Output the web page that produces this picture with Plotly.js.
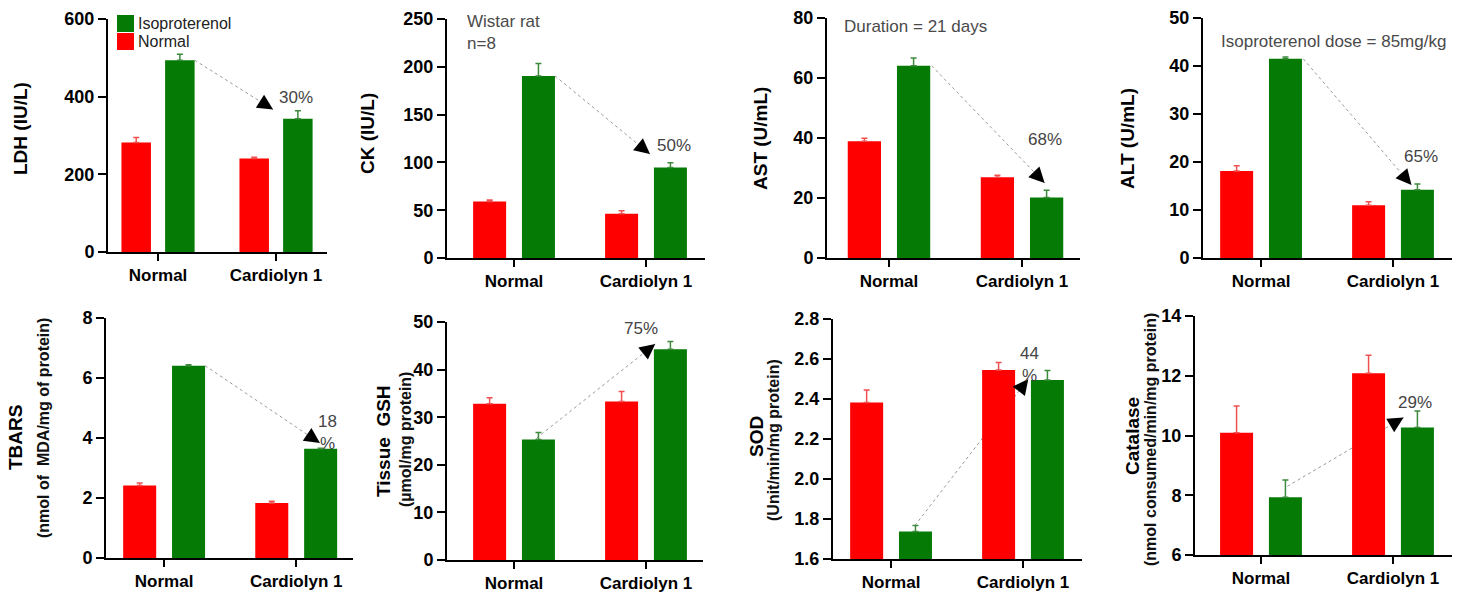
<!DOCTYPE html>
<html>
<head>
<meta charset="utf-8">
<script src="https://cdn.plot.ly/plotly-3.0.1.min.js"></script>
<style>
  html, body { margin: 0; padding: 0; background: #ffffff; }
  #chart { width: 1465px; height: 592px; }
</style>
</head>
<body>
<div id="chart"></div>
<script>
// ---------------- DATA ----------------
const categories = ['Normal', 'Cardiolyn 1'];
const groupNames = ['Normal', 'Isoproterenol'];

const ldhNormal = [282, 241],    ldhNormalErr = [13, 3];
const ldhIso = [494, 343],       ldhIsoErr = [15, 21];
const ckNormal = [59.2, 46.3],   ckNormalErr = [1.5, 3];
const ckIso = [190.5, 94.7],     ckIsoErr = [13, 5];
const astNormal = [38.9, 26.9],  astNormalErr = [1.0, 0.7];
const astIso = [64.1, 20.2],     astIsoErr = [2.6, 2.4];
const altNormal = [18.1, 11.0],  altNormalErr = [1.1, 0.7];
const altIso = [41.5, 14.2],     altIsoErr = [0.4, 1.2];
const tbarsNormal = [2.42, 1.83], tbarsNormalErr = [0.08, 0.06];
const tbarsIso = [6.41, 3.64],    tbarsIsoErr = [0.03, 0.02];
const gshNormal = [32.8, 33.3],  gshNormalErr = [1.3, 2.1];
const gshIso = [25.3, 44.3],     gshIsoErr = [1.5, 1.6];
const sodNormal = [2.383, 2.545], sodNormalErr = [0.062, 0.038];
const sodIso = [1.737, 2.495],    sodIsoErr = [0.03, 0.047];
const catNormal = [10.09, 12.08], catNormalErr = [0.9, 0.61];
const catIso = [7.93, 10.27],     catIsoErr = [0.58, 0.55];

const yTitles = ['LDH (IU/L)', 'CK (IU/L)', 'AST (U/mL)', 'ALT (U/mL)', 'TBARS', 'Tissue  GSH', 'SOD', 'Catalase'];
const ySubtitles = ['', '', '', '', '(nmol of  MDA/mg of protein)', '(µmol/mg protein)', '(Unit/min/mg protein)', '(nmol consumed/min/mg protein)'];
const changeLabels = ['30%', '50%', '68%', '65%', '18<br>%', '75%', '44<br>%', '29%'];
const noteTexts = ['', 'Wistar rat<br>n=8', 'Duration = 21 days', 'Isoproterenol dose = 85mg/kg'];

const normalSeries = [ldhNormal, ckNormal, astNormal, altNormal, tbarsNormal, gshNormal, sodNormal, catNormal];
const normalErrors = [ldhNormalErr, ckNormalErr, astNormalErr, altNormalErr, tbarsNormalErr, gshNormalErr, sodNormalErr, catNormalErr];
const isoSeries = [ldhIso, ckIso, astIso, altIso, tbarsIso, gshIso, sodIso, catIso];
const isoErrors = [ldhIsoErr, ckIsoErr, astIsoErr, altIsoErr, tbarsIsoErr, gshIsoErr, sodIsoErr, catIsoErr];

// ---------------- LAYOUT CONFIG ----------------
const W = 1465, H = 592;
const FONT = 'Liberation Sans, Arial, Helvetica, sans-serif';
const RED = '#ff0000', GREEN = '#057a05';

const panels = [
  {xpx:[108,327],  ypx:[19,252],  xr:[-0.424,1.432], yr:[0,600], dt:200, tf:'',    title:[21,129],  sub:null},
  {xpx:[447,705],  ypx:[19,258],  xr:[-0.508,1.447], yr:[0,250], dt:50,  tf:'',    title:[367,133], sub:null},
  {xpx:[827,1080], ypx:[18,258],  xr:[-0.466,1.436], yr:[0,80],  dt:20,  tf:'',    title:[760,138], sub:null},
  {xpx:[1203,1452],ypx:[18,258],  xr:[-0.44,1.447],  yr:[0,50],  dt:10,  tf:'',    title:[1128,139],sub:null},
  {xpx:[106,353],  ypx:[318,558], xr:[-0.44,1.43],   yr:[0,8],   dt:2,   tf:'',    title:[15,438],  sub:[43,428]},
  {xpx:[447,703],  ypx:[322,560], xr:[-0.508,1.432], yr:[0,50],  dt:10,  tf:'',    title:[383,441], sub:[405,440]},
  {xpx:[833,1082], ypx:[319,559], xr:[-0.44,1.447],  yr:[1.6,2.8],dt:0.2,tf:'.1f', title:[756,437], sub:[773,440]},
  {xpx:[1195,1452],ypx:[316,555], xr:[-0.5,1.447],   yr:[6,14],  dt:2,   tf:'',    title:[1132,436],sub:[1150,440]}
];
// arrow geometry: start (x, offset above Iso[0]), tip (x, offset above Iso[1]); label position
const arrows = [
  {sx:0.31, sdy:0,    tx:0.975, tdy:24,    lx:1.17, ly:399},
  {sx:0.31, sdy:0,    tx:1.03,  tdy:14,    lx:1.21, ly:117.5},
  {sx:0.32, sdy:0,    tx:1.17,  tdy:4.8,   lx:1.17, ly:39.4},
  {sx:0.32, sdy:0,    tx:1.14,  tdy:1.0,   lx:1.21, ly:21.1},
  {sx:0.31, sdy:0,    tx:1.18,  tdy:0.19,  lx:1.235,ly:4.18},
  {sx:0.17, sdy:0.3,  tx:1.07,  tdy:1.1,   lx:0.96, ly:48.7},
  {sx:0.18, sdy:0.03, tx:1.04,  tdy:0.005, lx:1.05, ly:2.575},
  {sx:0.20, sdy:0.37, tx:1.08,  tdy:0.33,  lx:1.17, ly:11.12}
];
const notePos = [null, [465,10], [842,15], [1219,30]];

const px2x = p => p / W;
const py2y = p => 1 - p / H;

const traces = [];
const layout = {
  width: W, height: H,
  margin: {l:0, r:0, t:0, b:0},
  paper_bgcolor: '#ffffff',
  plot_bgcolor: 'rgba(0,0,0,0)',
  barmode: 'overlay',
  showlegend: false,
  font: {family: FONT, color: '#000'},
  shapes: [],
  annotations: []
};

panels.forEach((p, i) => {
  const n = i + 1;
  const xa = n === 1 ? 'x' : 'x' + n;
  const ya = n === 1 ? 'y' : 'y' + n;
  const xk = n === 1 ? 'xaxis' : 'xaxis' + n;
  const yk = n === 1 ? 'yaxis' : 'yaxis' + n;

  traces.push({
    type: 'bar', name: groupNames[0], x: categories, y: normalSeries[i],
    xaxis: xa, yaxis: ya, offset: -0.31, width: 0.25,
    marker: {color: RED, line: {width: 0}},
    error_y: {type:'data', symmetric:false, array: normalErrors[i], arrayminus: [0,0],
              color: '#f05050', thickness: 1.5, width: 3},
    hoverinfo: 'skip'
  });
  traces.push({
    type: 'bar', name: groupNames[1], x: categories, y: isoSeries[i],
    xaxis: xa, yaxis: ya, offset: 0.06, width: 0.25,
    marker: {color: GREEN, line: {width: 0}},
    error_y: {type:'data', symmetric:false, array: isoErrors[i], arrayminus: [0,0],
              color: '#3d8a3d', thickness: 1.5, width: 3},
    hoverinfo: 'skip'
  });

  layout[xk] = {
    domain: [px2x(p.xpx[0]), px2x(p.xpx[1])],
    anchor: ya, type: 'category', range: p.xr,
    showline: true, linewidth: 2, linecolor: '#000',
    ticks: 'outside', ticklen: 7, tickwidth: 2, tickcolor: '#000',
    tickfont: {family: FONT, size: 17, weight: 'bold', color: '#000'},
    showgrid: false, zeroline: false, fixedrange: true
  };
  layout[yk] = {
    domain: [py2y(p.ypx[1]), py2y(p.ypx[0])],
    anchor: xa, range: p.yr, dtick: p.dt, tick0: p.yr[0], tickformat: p.tf,
    showline: true, linewidth: 2, linecolor: '#000',
    ticks: 'outside', ticklen: 8, tickwidth: 2, tickcolor: '#000',
    tickfont: {family: FONT, size: 18, weight: 'bold', color: '#000'},
    showgrid: false, zeroline: false, fixedrange: true
  };

  // y titles
  layout.annotations.push({
    xref:'paper', yref:'paper', x: px2x(p.title[0]), y: py2y(p.title[1]),
    xanchor:'center', yanchor:'middle', textangle: -90, showarrow:false,
    text: yTitles[i], font: {family: FONT, size: 19, weight: 'bold', color: '#000'}
  });
  if (p.sub) {
    layout.annotations.push({
      xref:'paper', yref:'paper', x: px2x(p.sub[0]), y: py2y(p.sub[1]),
      xanchor:'center', yanchor:'middle', textangle: -90, showarrow:false,
      text: ySubtitles[i], font: {family: FONT, size: 16, weight: 'bold', color: '#111'}
    });
  }

  // arrow: dotted line + arrow head
  const a = arrows[i];
  const sy = isoSeries[i][0] + a.sdy;
  const ty = isoSeries[i][1] + a.tdy;
  layout.shapes.push({
    type:'line', xref: xa, yref: ya, x0: a.sx, y0: sy, x1: a.tx, y1: ty,
    line: {color:'#9a9a9a', width: 1, dash:'dot'}, layer:'below'
  });
  const pxX = (p.xpx[1]-p.xpx[0]) / (p.xr[1]-p.xr[0]);
  const pxY = (p.ypx[1]-p.ypx[0]) / (p.yr[1]-p.yr[0]);
  const dxp = (a.tx - a.sx) * pxX, dyp = -(ty - sy) * pxY;
  const len = Math.sqrt(dxp*dxp + dyp*dyp), L = 12;
  layout.annotations.push({
    xref: xa, yref: ya, x: a.tx, y: ty, text: '', showarrow: true,
    ax: -dxp/len*L, ay: -dyp/len*L, arrowhead: 2, arrowsize: 3.1, arrowwidth: 1,
    arrowcolor: '#000', standoff: 0
  });
  layout.annotations.push({
    xref: xa, yref: ya, x: a.lx, y: a.ly, text: changeLabels[i], showarrow: false,
    xanchor:'center', yanchor:'middle', align:'center',
    font: {family: FONT, size: 17, color: '#444'}
  });
});

// notes in top row
noteTexts.forEach((t, i) => {
  if (!t) return;
  layout.annotations.push({
    xref:'paper', yref:'paper', x: px2x(notePos[i][0]), y: py2y(notePos[i][1]),
    xanchor:'left', yanchor:'top', align:'left', showarrow:false, text: t,
    font: {family: FONT, size: 17, color: '#4a4a4a'}
  });
});

// custom legend (Isoproterenol on top, Normal below)
const legendColors = [GREEN, RED];
const legendLabels = [groupNames[1], groupNames[0]];
legendLabels.forEach((lab, k) => {
  const top = 15 + k * 18;
  layout.shapes.push({
    type:'rect', xref:'paper', yref:'paper',
    x0: px2x(117), x1: px2x(134), y0: py2y(top + 17), y1: py2y(top),
    fillcolor: legendColors[k], line: {width: 0}
  });
  layout.annotations.push({
    xref:'paper', yref:'paper', x: px2x(137), y: py2y(top + 8.5),
    xanchor:'left', yanchor:'middle', showarrow:false, text: lab, borderpad: 0,
    font: {family: FONT, size: 16, color: '#222'}
  });
});

Plotly.newPlot('chart', traces, layout, {displayModeBar: false, staticPlot: true});
</script>
</body>
</html>
